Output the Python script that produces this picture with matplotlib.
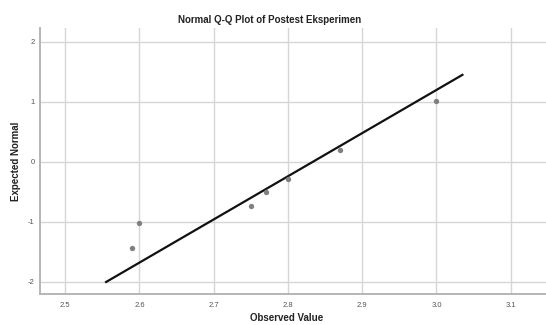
import matplotlib
matplotlib.use("Agg")
import matplotlib.pyplot as plt

plt.rcParams['font.family'] = ['Liberation Sans', 'DejaVu Sans']

observed = [2.59, 2.60, 2.75, 2.77, 2.80, 2.87, 3.00]
expected = [-1.43, -1.02, -0.73, -0.50, -0.29, 0.20, 1.02]
line_x = [2.555, 3.035]
line_y = [-2.0, 1.45]
xticks = [2.5, 2.6, 2.7, 2.8, 2.9, 3.0, 3.1]
yticks = [-2, -1, 0, 1, 2]

fig = plt.figure(figsize=(5.46, 3.25), dpi=100)
ax = fig.add_axes([0.0733, 0.0954, 0.93, 0.8184])

ax.set_xlim(2.466, 3.15)
ax.set_ylim(-2.2, 2.23)
ax.set_xticks(xticks)
ax.set_xticklabels([f"{t:.1f}" for t in xticks])
ax.set_yticks(yticks)
ax.set_yticklabels([str(t) for t in yticks])

ax.grid(True, color='#d6d6d6', linewidth=1.0)
ax.set_axisbelow(True)
for s in ['top', 'right']:
    ax.spines[s].set_visible(False)
for s in ['left', 'bottom']:
    ax.spines[s].set_color('#b5b5b5')
    ax.spines[s].set_linewidth(1.4)
ax.tick_params(length=0, labelsize=5.5, labelcolor='#555555')
ax.tick_params(axis='x', pad=6)
ax.tick_params(axis='y', pad=4)

ax.plot(line_x, line_y, color='#111111', linewidth=1.6, zorder=3)
ax.scatter(observed, expected, s=15, color='#808080', zorder=4, linewidths=0)

fig.text(0.493, 0.938, "Normal Q-Q Plot of Postest Eksperimen", ha='center', va='center',
         fontsize=7, fontweight='bold', color='#222222')
fig.text(287/546, 1 - 318/325, "Observed Value", ha='center', va='center',
         fontsize=7, fontweight='bold', color='#222222')
fig.text(16/546, 1 - 161/325, "Expected Normal", ha='center', va='center', rotation=90,
         fontsize=7, fontweight='bold', color='#222222')

fig.savefig("out.png", dpi=100)
